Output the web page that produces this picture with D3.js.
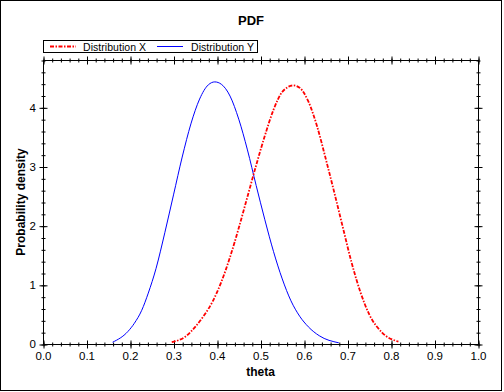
<!DOCTYPE html>
<html>
<head>
<meta charset="utf-8">
<script src="https://cdn.jsdelivr.net/npm/d3@7"></script>
<style>
  body { margin: 0; background: #fff; }
  text { font-family: "Liberation Sans", Arial, sans-serif; fill: #000; }
</style>
</head>
<body>
<script>
// Distribution X (red, dash-dot)
const thetaX = [0.296, 0.33, 0.35, 0.37, 0.39, 0.41, 0.43, 0.45, 0.47, 0.49, 0.51, 0.53, 0.55, 0.575, 0.59, 0.61, 0.63, 0.65, 0.67, 0.69, 0.71, 0.73, 0.75, 0.78, 0.817];
const densX = [0.03, 0.14, 0.29, 0.48, 0.72, 1.05, 1.47, 1.96, 2.49, 3.02, 3.52, 3.96, 4.26, 4.37, 4.33, 4.10, 3.68, 3.13, 2.55, 1.95, 1.36, 0.87, 0.50, 0.19, 0.04];

// Distribution Y (blue, solid)
const thetaY = [0.16, 0.195, 0.21, 0.227, 0.242, 0.26, 0.28, 0.30, 0.32, 0.34, 0.36, 0.38, 0.395, 0.41, 0.43, 0.45, 0.47, 0.49, 0.51, 0.53, 0.55, 0.57, 0.59, 0.61, 0.635, 0.68];
const densY = [0.03, 0.21, 0.35, 0.57, 0.86, 1.28, 1.88, 2.52, 3.16, 3.72, 4.14, 4.38, 4.43, 4.39, 4.19, 3.80, 3.28, 2.68, 2.10, 1.56, 1.10, 0.73, 0.47, 0.29, 0.14, 0.02];

const xTicks = [0, 0.1, 0.2, 0.3, 0.4, 0.5, 0.6, 0.7, 0.8, 0.9, 1.0];
const yTicks = [0, 1, 2, 3, 4];
const seriesNames = ["Distribution X", "Distribution Y"];

const WIDTH = 504, HEIGHT = 392;
const M = { left: 43, right: 478, top: 60, bottom: 344 };

const svg = d3.select("body").append("svg")
  .attr("width", WIDTH).attr("height", HEIGHT);

// outer frame
svg.append("rect")
  .attr("x", 0.5).attr("y", 0.5).attr("width", 501).attr("height", 390)
  .attr("fill", "#fff").attr("stroke", "#000");

const x = d3.scaleLinear().domain([0, 1]).range([M.left, M.right]);
const y = d3.scaleLinear().domain([0, 4.8]).range([M.bottom, M.top]);

// plot frame
svg.append("rect")
  .attr("x", M.left + 0.5).attr("y", M.top + 0.5)
  .attr("width", M.right - M.left).attr("height", M.bottom - M.top)
  .attr("fill", "none").attr("stroke", "#000");

const minorX = d3.range(0, 1.0001, 0.02);
const minorY = d3.range(0, 4.8001, 0.2);

// ticks crossing each side of the frame
function crossTicks(axisGen, tr, values, len) {
  svg.append("g").attr("transform", tr)
    .call(axisGen.tickValues(values).tickSize(len).tickSizeOuter(0).tickFormat(""))
    .call(g => g.select(".domain").remove())
    .call(g => g.selectAll("line").attr("stroke", "#000"));
}
const sidesX = ["translate(0.5," + (M.bottom + 0.5) + ")", "translate(0.5," + (M.top + 0.5) + ")"];
const sidesY = ["translate(" + (M.left + 0.5) + ",0.5)", "translate(" + (M.right + 0.5) + ",0.5)"];
sidesX.forEach(tr => {
  crossTicks(d3.axisBottom(x), tr, minorX, 2);
  crossTicks(d3.axisTop(x), tr, minorX, 2);
  crossTicks(d3.axisBottom(x), tr, xTicks, 4);
  crossTicks(d3.axisTop(x), tr, xTicks, 4);
});
sidesY.forEach(tr => {
  crossTicks(d3.axisLeft(y), tr, minorY, 2);
  crossTicks(d3.axisRight(y), tr, minorY, 2);
  crossTicks(d3.axisLeft(y), tr, yTicks, 4);
  crossTicks(d3.axisRight(y), tr, yTicks, 4);
});

// tick labels
svg.append("g").attr("transform", "translate(0," + M.bottom + ")")
  .call(d3.axisBottom(x).tickValues(xTicks).tickSize(0).tickPadding(8).tickFormat(d3.format(".1f")))
  .call(g => g.select(".domain").remove())
  .selectAll("text").attr("font-size", 11.5).attr("font-family", "Liberation Sans, Arial, sans-serif").attr("fill", "#000");

svg.append("g").attr("transform", "translate(" + M.left + ",0)")
  .call(d3.axisLeft(y).tickValues(yTicks).tickSize(0).tickPadding(7).tickFormat(d3.format("d")))
  .call(g => g.select(".domain").remove())
  .selectAll("text").attr("font-size", 11.5).attr("font-family", "Liberation Sans, Arial, sans-serif").attr("fill", "#000");

// titles
svg.append("text").attr("x", 251).attr("y", 25)
  .attr("text-anchor", "middle").attr("font-size", 13).attr("font-weight", "bold").text("PDF");
svg.append("text").attr("x", (M.left + M.right) / 2).attr("y", 376)
  .attr("text-anchor", "middle").attr("font-size", 12).attr("font-weight", "bold").text("theta");
svg.append("text")
  .attr("transform", "translate(25," + (M.top + M.bottom) / 2 + ") rotate(-90)")
  .attr("text-anchor", "middle").attr("font-size", 12).attr("font-weight", "bold").text("Probability density");

// curves
const line = d3.line().x(d => x(d[0])).y(d => y(d[1])).curve(d3.curveMonotoneX);
svg.append("path")
  .datum(d3.zip(thetaY, densY))
  .attr("d", line).attr("fill", "none").attr("stroke", "#0000ff").attr("stroke-width", 1);
svg.append("path")
  .datum(d3.zip(thetaX, densX))
  .attr("d", line).attr("fill", "none").attr("stroke", "#ff0000").attr("stroke-width", 1.8)
  .attr("stroke-dasharray", "4,1.5,1.5,1.5");

// legend
const leg = svg.append("g");
leg.append("rect").attr("x", 43.5).attr("y", 40.5).attr("width", 214).attr("height", 12)
  .attr("fill", "#fff").attr("stroke", "#000");
leg.append("line").attr("x1", 50).attr("x2", 76).attr("y1", 46.5).attr("y2", 46.5)
  .attr("stroke", "#ff0000").attr("stroke-width", 1.8).attr("stroke-dasharray", "4,1.5,1.5,1.5");
leg.append("text").attr("x", 83).attr("y", 50.5).attr("font-size", 10.5).attr("textLength", 63).text(seriesNames[0]);
leg.append("line").attr("x1", 157).attr("x2", 183).attr("y1", 46.5).attr("y2", 46.5)
  .attr("stroke", "#0000ff").attr("stroke-width", 1);
leg.append("text").attr("x", 191).attr("y", 50.5).attr("font-size", 10.5).attr("textLength", 63).text(seriesNames[1]);
</script>
</body>
</html>
